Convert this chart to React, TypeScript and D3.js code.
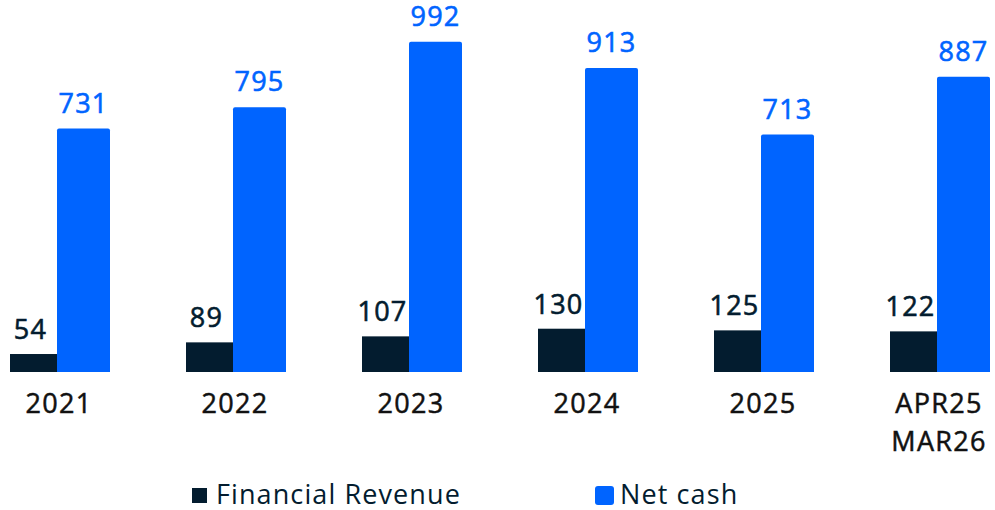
import React from 'react';
import * as d3 from 'd3';

const categories = ['2021', '2022', '2023', '2024', '2025', 'APR25\nMAR26'];
const financialRevenue = [54, 89, 107, 130, 125, 122];
const netCash = [731, 795, 992, 913, 713, 887];
const legendLabels = ['Financial Revenue', 'Net cash'];

const W = 995;
const H = 510;
const DARK = '#031c2f';
const BLUE = '#0064ff';
const FONT = '"Open Sans", "Noto Sans", sans-serif';

// path for a bar with slightly rounded top corners
function topRounded(x: number, y: number, w: number, h: number, r: number) {
  return `M${x},${y + h}V${y + r}Q${x},${y} ${x + r},${y}H${x + w - r}Q${x + w},${y} ${x + w},${y + r}V${y + h}Z`;
}

export default function App() {
  const baseline = 372;
  const x = d3.scaleBand<string>()
    .domain(categories)
    .range([10, 990])
    .paddingInner(76 / 176)
    .paddingOuter(0);
  const y = d3.scaleLinear().domain([0, 1000]).range([baseline, baseline - 333]);

  const bw = x.bandwidth();
  const darkW = bw * 0.47;

  return (
    <svg width={W} height={H} style={{ position: 'absolute', left: 0, top: 0 }}>
      {categories.map((c, i) => {
        const gx = x(c) as number;
        const fy = y(financialRevenue[i]);
        const ny = y(netCash[i]);
        const lines = c.split('\n');
        return (
          <g key={c}>
            <rect x={gx} y={fy} width={darkW} height={baseline - fy} fill={DARK} />
            <path d={topRounded(gx + darkW, ny, bw - darkW, baseline - ny, 2)} fill={BLUE} />
            <text x={gx + darkW / 2 - 3} y={fy - 15} textAnchor="middle"
              fontFamily={FONT} fontSize={27} letterSpacing={1.2}
              fill={DARK} stroke={DARK} strokeWidth={0.6}>
              {financialRevenue[i]}
            </text>
            <text x={gx + darkW + (bw - darkW) / 2} y={ny - 16} textAnchor="middle"
              fontFamily={FONT} fontSize={27} letterSpacing={1.2}
              fill={BLUE} stroke={BLUE} strokeWidth={0.6}>
              {netCash[i]}
            </text>
            {lines.map((l, j) => (
              <text key={l} x={gx + bw / 2 - 1} y={413 + j * 38} textAnchor="middle"
                fontFamily={FONT} fontSize={27} letterSpacing={1.3}
                fill="#111" stroke="#111" strokeWidth={0.5}>
                {l}
              </text>
            ))}
          </g>
        );
      })}
      <g>
        <rect x={192} y={488} width={15} height={15} fill={DARK} />
        <text x={216} y={504} fontFamily={FONT} fontSize={27} letterSpacing={1.1} fill={DARK}>{legendLabels[0]}</text>
        <rect x={595} y={486} width={19} height={19} rx={3} fill={BLUE} />
        <text x={620} y={504} fontFamily={FONT} fontSize={27} letterSpacing={1.1} fill={DARK}>{legendLabels[1]}</text>
      </g>
    </svg>
  );
}
